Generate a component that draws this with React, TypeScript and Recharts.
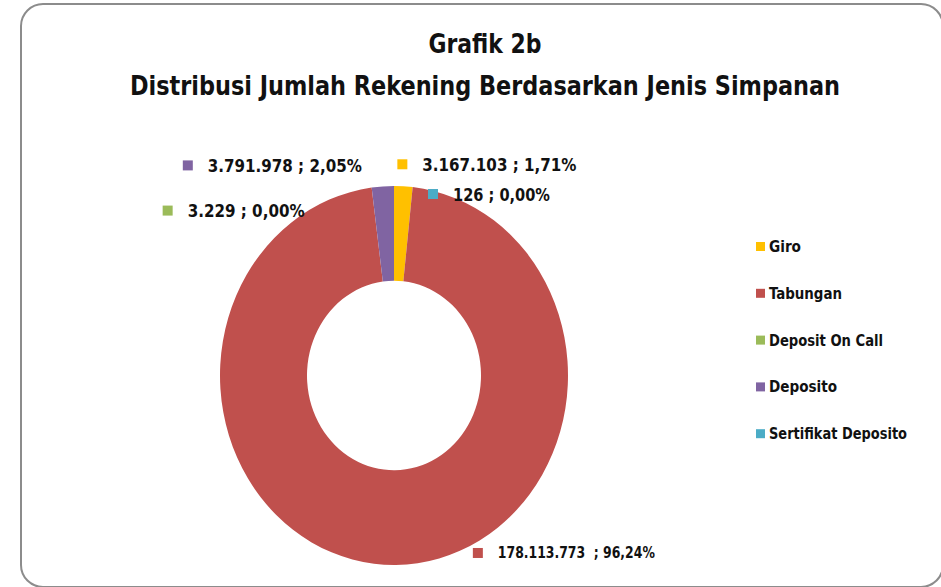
import React from 'react';
import { PieChart, Pie, Cell, Sector, Legend } from 'recharts';

const CATEGORIES = ['Giro', 'Tabungan', 'Deposit On Call', 'Deposito', 'Sertifikat Deposito'];
const ACCOUNTS = [3167103, 178113773, 3229, 3791978, 126];
const COLORS = ['#FFC000', '#C0504D', '#9BBB59', '#8064A2', '#4BACC6'];
const LABEL_SEPARATORS = [' ; ', '  ; ', ' ; ', ' ; ', ' ; '];
const TITLE = 'Grafik 2b';
const SUBTITLE = 'Distribusi Jumlah Rekening Berdasarkan Jenis Simpanan';

const data = CATEGORIES.map((name, i) => ({ name, value: ACCOUNTS[i] }));

// layout
const W = 941;
const H = 587;
const CX = 394;
const CY = 375.5;
const OUTER = 174;
const INNER = 87;
const Y_SCALE = 1.089;
const LABEL_OFFSETS = [
  [-6, -22],
  [77, -12],
  [-209, 23],
  [-200, -21],
  [34, 8],
];
const LABEL_WIDTHS = [154, 157, 117, 154, 97];
const LABEL_FONT_SIZES = [18, 15.5, 18, 18, 18];
const LEGEND_WIDTHS = [32, 73, 114, 68, 138];
const FONT = "'DejaVu Sans Condensed', 'DejaVu Sans', sans-serif";
const TEXT_COLOR = '#111111';

const fmtNum = (v: number) => String(v).replace(/\B(?=(\d{3})+(?!\d))/g, '.');
const fmtPct = (p: number) => (p * 100).toFixed(2).replace('.', ',') + '%';

const EllipseSector = (props: any) => {
  const { cx, cy, innerRadius, outerRadius, startAngle, endAngle, fill } = props;
  return (
    <g transform={`translate(0 ${cy}) scale(1 ${Y_SCALE}) translate(0 ${-cy})`}>
      <Sector
        cx={cx}
        cy={cy}
        innerRadius={innerRadius}
        outerRadius={outerRadius}
        startAngle={startAngle}
        endAngle={endAngle}
        fill={fill}
        stroke="none"
      />
    </g>
  );
};

const renderLabel = (p: any) => {
  const { cx, cy, midAngle, outerRadius, index, value, percent } = p;
  const rad = (midAngle * Math.PI) / 180;
  const ax = cx + outerRadius * Math.cos(rad);
  const ay = cy - outerRadius * Y_SCALE * Math.sin(rad);
  const [dx, dy] = LABEL_OFFSETS[index];
  const mx = ax + dx;
  const my = ay + dy;
  return (
    <g key={`lbl-${index}`}>
      <rect x={mx} y={my - 5} width={10} height={10} fill={COLORS[index]} />
      <text
        x={mx + 25}
        y={my}
        dominantBaseline="central"
        fontFamily={FONT}
        fontWeight="bold"
        fontSize={LABEL_FONT_SIZES[index]}
        fill={TEXT_COLOR}
        textLength={LABEL_WIDTHS[index]}
        lengthAdjust="spacingAndGlyphs"
        style={{ whiteSpace: 'pre' }}
      >
        {fmtNum(value) + LABEL_SEPARATORS[index] + fmtPct(percent)}
      </text>
    </g>
  );
};

const renderLegend = (props: any) => {
  const payload = [...(props.payload || [])].sort(
    (a: any, b: any) => CATEGORIES.indexOf(a.value) - CATEGORIES.indexOf(b.value)
  );
  return (
    <svg width={180} height={240} style={{ display: 'block', overflow: 'visible' }}>
      {payload.map((entry: any, i: number) => {
        const idx = CATEGORIES.indexOf(entry.value);
        return (
          <g key={`leg-${i}`}>
            <rect x={0} y={i * 46.8 + 5} width={9} height={9} fill={entry.color} />
            <text
              x={13}
              y={i * 46.8 + 9.5}
              dominantBaseline="central"
              fontFamily={FONT}
              fontWeight="bold"
              fontSize={16}
              fill={TEXT_COLOR}
              textLength={LEGEND_WIDTHS[idx]}
              lengthAdjust="spacingAndGlyphs"
            >
              {entry.value}
            </text>
          </g>
        );
      })}
    </svg>
  );
};

export default function App() {
  return (
    <div style={{ position: 'absolute', left: 0, top: 0, width: W, height: H, background: '#fff', overflow: 'hidden' }}>
      <svg width={W} height={H} style={{ position: 'absolute', left: 0, top: 0 }}>
        <rect x={21} y={4} width={922} height={583} rx={22} ry={22} fill="#fff" stroke="#8c8c8c" strokeWidth={2} />
        <text
          x={485}
          y={53}
          textAnchor="middle"
          fontFamily={FONT}
          fontWeight="bold"
          fontSize={27}
          fill={TEXT_COLOR}
          textLength={113}
          lengthAdjust="spacingAndGlyphs"
        >
          {TITLE}
        </text>
        <text
          x={485}
          y={95}
          textAnchor="middle"
          fontFamily={FONT}
          fontWeight="bold"
          fontSize={27}
          fill={TEXT_COLOR}
          textLength={710}
          lengthAdjust="spacingAndGlyphs"
        >
          {SUBTITLE}
        </text>
      </svg>
      <div style={{ position: 'absolute', left: 0, top: 0 }}>
        <PieChart width={W} height={H} margin={{ top: 0, right: 0, bottom: 0, left: 0 }}>
          <Pie
            data={data}
            dataKey="value"
            nameKey="name"
            cx={CX}
            cy={CY}
            innerRadius={INNER}
            outerRadius={OUTER}
            startAngle={90}
            endAngle={-270}
            stroke="none"
            isAnimationActive={false}
            labelLine={false}
            label={renderLabel}
            shape={EllipseSector}
            activeShape={EllipseSector}
            inactiveShape={EllipseSector}
          >
            {data.map((d, i) => (
              <Cell key={d.name} fill={COLORS[i]} />
            ))}
          </Pie>
          <Legend
            layout="vertical"
            align="right"
            verticalAlign="top"
            content={renderLegend}
            wrapperStyle={{ position: 'absolute', left: 756, top: 237, width: 180, height: 240 }}
          />
        </PieChart>
      </div>
    </div>
  );
}
